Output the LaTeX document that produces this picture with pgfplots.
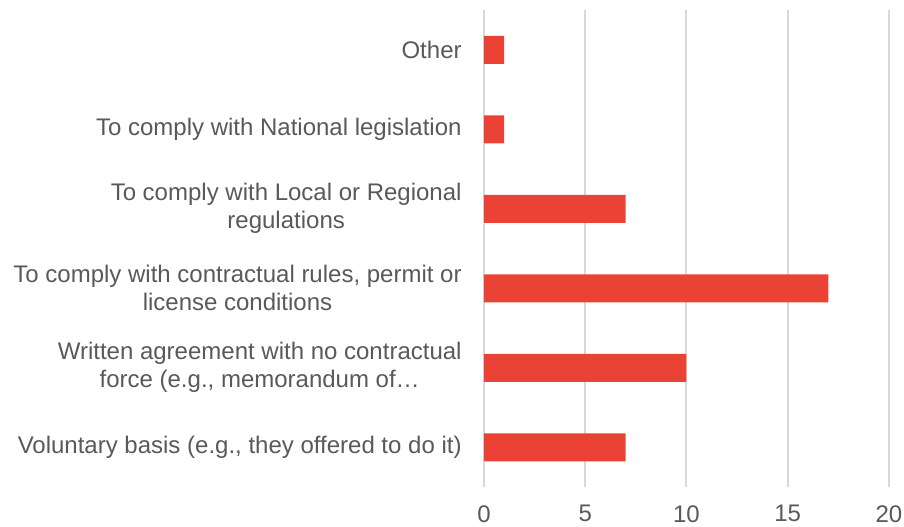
\documentclass[border=0pt]{standalone}
\usepackage{fontspec}
\setmainfont{Liberation Sans}
\usepackage{pgfplots}
\pgfplotsset{compat=1.18}
\definecolor{barred}{HTML}{EA4335}
\definecolor{gridgray}{HTML}{D9D9D9}
\definecolor{txtgray}{HTML}{595959}
\begin{document}
\fontsize{12pt}{14pt}\selectfont
\begin{tikzpicture}
\useasboundingbox (-242pt,-19.5pt) rectangle (210pt,243.5pt);
\begin{axis}[
  at={(0,0)}, anchor=south west,
  scale only axis,
  width=202.5pt, height=238.5pt,
  xbar, bar width=14pt,
  xmin=0, xmax=20,
  ymin=-0.5, ymax=5.5,
  xtick={0,5,10,15,20},
  ytick={0,1,2,3,4,5},
  yticklabels={
    {Voluntary basis (e.g., they offered to do it)},
    {Written agreement with no contractual\\force (e.g., memorandum of\ldots},
    {To comply with contractual rules, permit or\\license conditions},
    {To comply with Local or Regional\\regulations},
    {To comply with National legislation},
    {Other}},
  yticklabel style={align=center, inner sep=0pt, xshift=-11pt, font=\fontsize{12pt}{14pt}\selectfont, text=txtgray},
  xticklabel style={inner sep=0pt, yshift=-9pt, font=\fontsize{12pt}{14pt}\selectfont, text=txtgray},
  /pgf/number format/assume math mode=true,
  major tick length=0pt,
  axis line style={draw=none},
  xmajorgrids,
  grid style={gridgray, line width=1pt},
  clip=false,
]
\addplot[fill=barred, draw=none] coordinates {(7,0) (10,1) (17,2) (7,3) (1,4) (1,5)};
\end{axis}
\end{tikzpicture}
\end{document}
